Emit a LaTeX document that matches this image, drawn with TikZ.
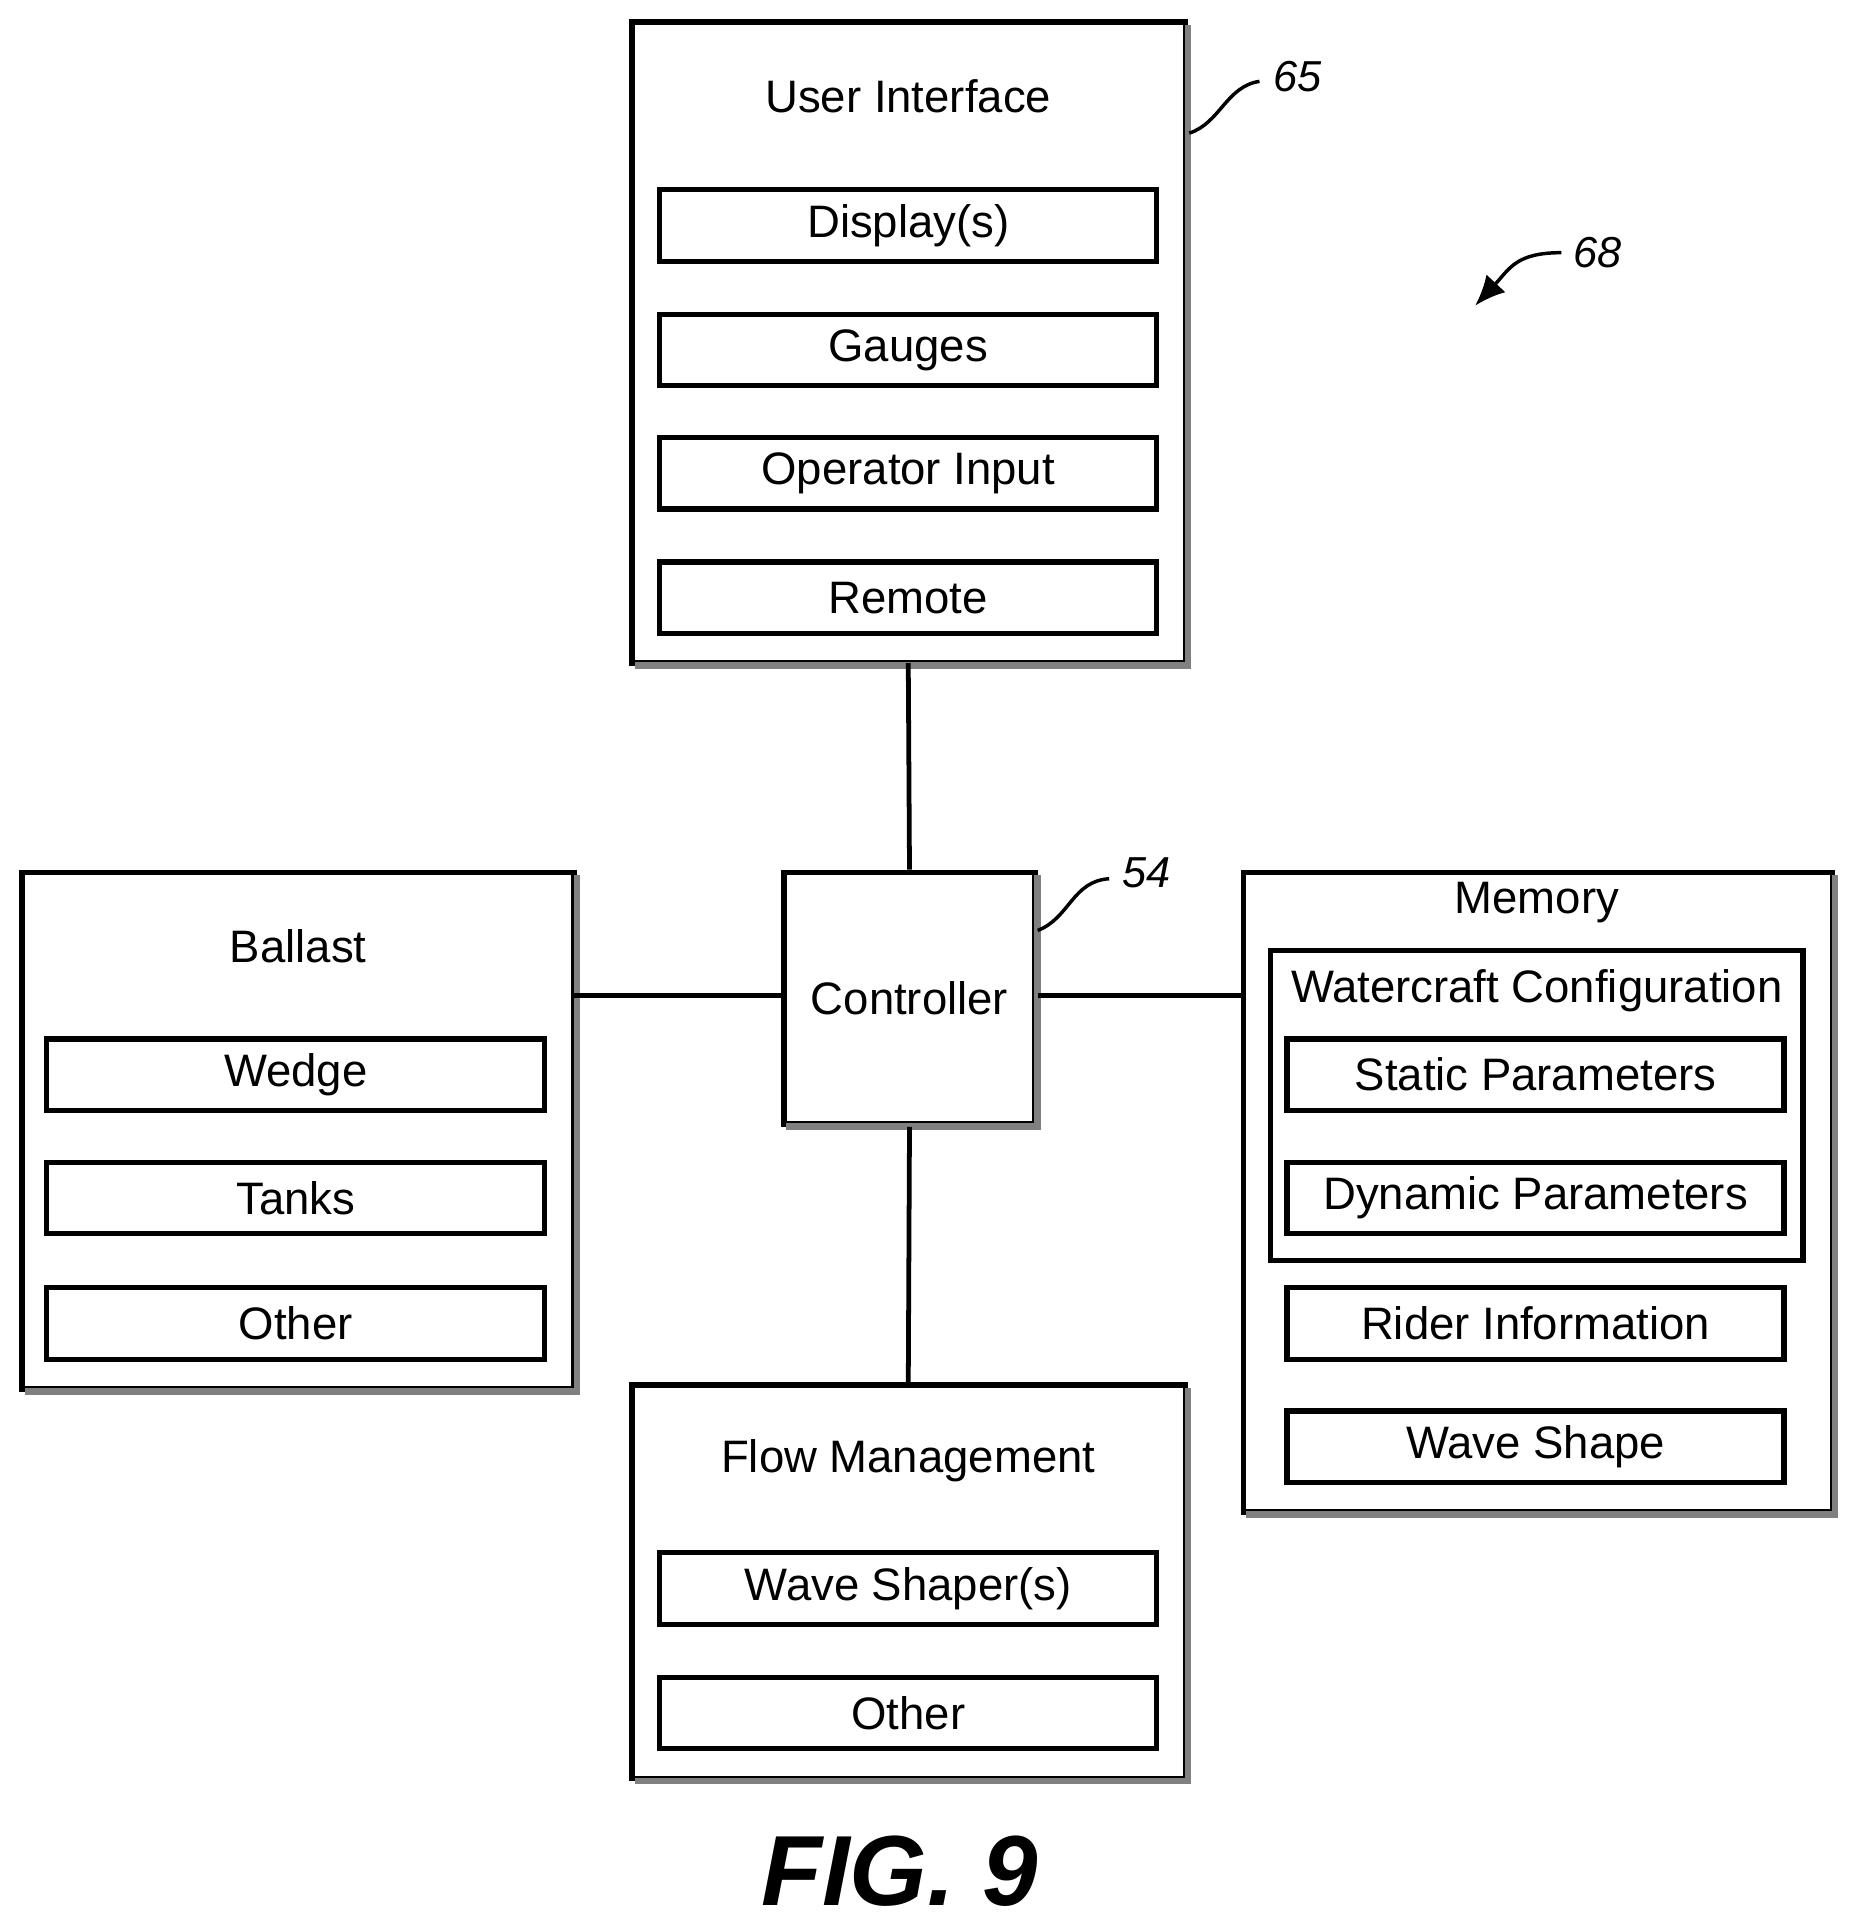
\documentclass[tikz,border=0pt]{standalone}
\usepackage{fontspec}
\setmainfont{Liberation Sans}
\usetikzlibrary{arrows.meta}
\begin{document}
\begin{tikzpicture}[x=0.01cm,y=-0.01cm,
  outer/.style={draw,line width=1.3pt,inner sep=0pt},
  inner/.style={draw,line width=1.2pt,inner sep=0pt,minimum height=0.58cm,font=\fontsize{10.5}{12}\selectfont},
  ttl/.style={font=\fontsize{10.5}{12}\selectfont,inner sep=0pt},
  lbl/.style={font=\itshape\fontsize{10}{12}\selectfont,inner sep=0pt},
  conn/.style={line width=1.1pt}]
\useasboundingbox (0,0) rectangle (1500,1562);
% User interface
\draw[outer] (513,18) rectangle (962,538);
\draw[gray,line width=1.5pt] (515,540) -- (964,540) -- (964,20);
\node[ttl] (uit) at (737,78) {User Interface};
\node[inner,minimum width=4.03cm] (d1) at (737,183) {Display(s)};
\node[inner,minimum width=4.03cm] (d2) at (737,284) {Gauges};
\node[inner,minimum width=4.03cm] (d3) at (737,384) {Operator Input};
\node[inner,minimum width=4.03cm] (d4) at (737,485) {Remote};
\coordinate (uib) at (737,538);
\coordinate (uir) at (965,108);
\node[lbl] (l65) at (1053,62) {65};
\draw[line width=0.8pt] (uir) .. controls (990,100) and (995,70) .. (1022,66);
% 68
\node[lbl] (l68) at (1296,205) {68};
\coordinate (a68) at (1197,248);
\draw[line width=0.8pt,-{Latex[length=7pt,width=6pt]}] (1267,205) .. controls (1230,205) and (1225,218) .. (a68);
% controller
\node[draw,line width=1.3pt,minimum width=2.04cm,minimum height=2.04cm,inner sep=0pt,font=\fontsize{10.5}{12}\selectfont] (ctrl) at (738,810) {Controller};
\draw[gray,line width=1.5pt] (638,914) -- (842,914) -- (842,710);
\node[lbl] (l54) at (930,708) {54};
\draw[line width=0.8pt] (842,755) .. controls (868,745) and (870,715) .. (900,713);
% Ballast
\draw[outer] (18,708) rectangle (466,1127);
\draw[gray,line width=1.5pt] (20,1129) -- (468,1129) -- (468,710);
\node[ttl] at (242,768) {Ballast};
\node[inner,minimum width=4.04cm] at (240,872) {Wedge};
\node[inner,minimum width=4.04cm] at (240,972) {Tanks};
\node[inner,minimum width=4.04cm] at (240,1074) {Other};
\coordinate (bal) at (466,808);
% Memory
\draw[outer] (1009,708) rectangle (1487,1227);
\draw[gray,line width=1.5pt] (1011,1229) -- (1489,1229) -- (1489,710);
\node[ttl] at (1247,732) {Memory};
\draw[line width=1.2pt] (1031,771) rectangle (1463,1023);
\node[ttl] at (1247,804) {Watercraft Configuration};
\node[inner,minimum width=4.03cm] at (1246,872) {Static Parameters};
\node[inner,minimum width=4.03cm] at (1246,972) {Dynamic Parameters};
\node[inner,minimum width=4.03cm] at (1246,1074) {Rider Information};
\node[inner,minimum width=4.03cm] at (1246,1174) {Wave Shape};
\coordinate (mem) at (1009,808);
% Flow
\draw[outer] (513,1124) rectangle (962,1443);
\draw[gray,line width=1.5pt] (515,1445) -- (964,1445) -- (964,1126);
\node[ttl] at (737,1185) {Flow Management};
\node[inner,minimum width=4.03cm] at (737,1289) {Wave Shaper(s)};
\node[inner,minimum width=4.03cm] at (737,1390) {Other};
\coordinate (flo) at (737,1124);
% connectors
\draw[conn] (uib) -- (ctrl.north);
\draw[conn] (bal) -- (ctrl.west |- bal);
\draw[conn] (ctrl.east |- mem) -- (mem);
\draw[conn] (ctrl.south) -- (flo);
\node[font=\bfseries\itshape\fontsize{23}{25}\selectfont,inner sep=0pt] (fig) at (730,1518) {FIG. 9};
\end{tikzpicture}
\end{document}
